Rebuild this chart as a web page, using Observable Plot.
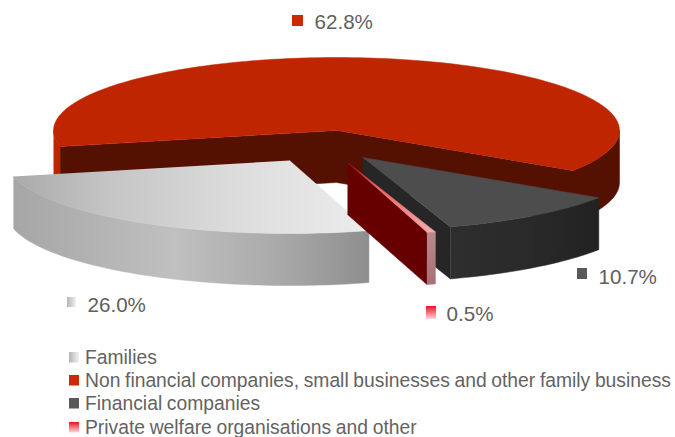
<!DOCTYPE html>
<html>
<head>
<meta charset="utf-8">
<script src="https://cdn.jsdelivr.net/npm/d3@7"></script>
<script src="https://cdn.jsdelivr.net/npm/@observablehq/plot@0.6"></script>
<style>
  html, body { margin: 0; padding: 0; background: #fff; }
  svg { display: block; }
</style>
</head>
<body>
<script>
// Ownership shares, in legend order (clockwise around the pie).
const categories = [
  "Families",
  "Non financial companies, small businesses and other family business",
  "Financial companies",
  "Private welfare organisations and other"
];
const shares = [26.0, 62.8, 10.7, 0.5];

// Pie projection: a tilted disc with an elliptical top and a constant wall depth.
const W = 675, H = 437;
const pie = {cx: 336, cy: 130, rx: 283, ry: 73, depth: 52, firstAngle: 16.3};
// Exploded offset of each slice from the pie centre.
const explode = [[-47, 30], [0, 0], [26, 27], [11, 32]];

// Outside labels and their swatches.
const labelAnchors = [[87, 305], [314, 22], [598, 277], [446, 314]];
const labelSwatches = [[67, 297, 76, 307], [292, 15, 303, 26], [577, 268, 587, 279], [426, 306, 436, 319]];
const legendRows = [357, 380, 403, 427];

// Angle 0 points at the viewer; the angle decreases clockwise on screen.
let cursor = pie.firstAngle;
const slices = shares.map((v, i) => {
  const a0 = cursor;
  cursor -= v * 3.6;
  return {i, a0, a1: cursor, ox: explode[i][0], oy: explode[i][1]};
});
const pt = (s, deg, drop = 0) => {
  const t = deg * Math.PI / 180;
  return {x: pie.cx + s.ox + pie.rx * Math.sin(t), y: pie.cy + s.oy + pie.ry * Math.cos(t) + drop};
};
const hub = (s, drop = 0) => ({x: pie.cx + s.ox, y: pie.cy + s.oy + drop});
const arc = (s, from, to, drop = 0) => {
  const n = Math.max(2, Math.ceil(Math.abs(to - from) / 1.5));
  return d3.range(n + 1).map(k => pt(s, from + (to - from) * k / n, drop));
};
const topFace = s => [hub(s), ...arc(s, s.a0, s.a1)];
const rimWall = (s, from, to) => [...arc(s, from, to), ...arc(s, to, from, pie.depth)];
const cutWall = (s, deg) => [hub(s), pt(s, deg), pt(s, deg, pie.depth), hub(s, pie.depth)];

const face = (points, fill) =>
  Plot.line(points, {x: "x", y: "y", fill, stroke: fill, strokeWidth: 0.5, curve: "linear"});

const [families, nonFin, fin, priv] = slices;

// The dark interior of the large slice: both cut walls and the right-hand rim as one outline.
const nonFinShade = [
  hub(nonFin),
  ...arc(nonFin, nonFin.a1 + 360, 90),
  ...arc(nonFin, 90, nonFin.a1 + 360, pie.depth),
  hub(nonFin, pie.depth),
  pt(nonFin, nonFin.a0, pie.depth),
  pt(nonFin, nonFin.a0)
];

// Gradients used by the lit surfaces and the swatches.
const gradient = (id, stops, x1, y1, x2, y2, user) => {
  const attrs = user
    ? `gradientUnits="userSpaceOnUse" x1="${x1}" y1="${y1}" x2="${x2}" y2="${y2}"`
    : `x1="${x1}" y1="${y1}" x2="${x2}" y2="${y2}"`;
  return `<linearGradient id="${id}" ${attrs}>` +
    stops.map(([o, c]) => `<stop offset="${o}" stop-color="${c}"/>`).join("") + `</linearGradient>`;
};
const defs = () => {
  const g = document.createElementNS("http://www.w3.org/2000/svg", "g");
  g.innerHTML = "<defs>" +
    gradient("greyTop", [[0, "#aaaaaa"], [0.25, "#c4c4c4"], [0.65, "#dedede"], [1, "#ececec"]], 14, 0, 372, 0, true) +
    gradient("greyWall", [[0, "#a6a6a6"], [0.45, "#c0c0c0"], [0.75, "#a9a9a9"], [1, "#8e8e8e"]], 14, 0, 369, 0, true) +
    gradient("darkWall", [[0, "#2e2e2e"], [0.5, "#2a2a2a"], [1, "#222222"]], 450, 0, 597, 0, true) +
    gradient("pinkTop", [[0, "#d01818"], [0.35, "#ee6060"], [1, "#f4a8a8"]], 347, 162, 428, 232, true) +
    gradient("pinkWall", [[0, "#b58a8d"], [1, "#a87074"]], 0, 232, 0, 284, true) +
    gradient("swatchGrey", [[0, "#b4b4b4"], [1, "#f2f2f2"]], 0, 0, 1, 0, false) +
    gradient("swatchPink", [[0, "#f01020"], [1, "#fcd8d8"]], 0, 0, 0, 1, false) +
    "</defs>";
  return g;
};

const tighten = (word) => (index, scales, values, dims, ctx, next) => {
  const g = next(index, scales, values, dims, ctx);
  g.style.wordSpacing = word;
  return g;
};

const rows = shares.map((v, i) => ({
  text: `${v.toFixed(1)}%`, x: labelAnchors[i][0], y: labelAnchors[i][1],
  s: labelSwatches[i]
}));
const legend = categories.map((name, i) => ({name, y: legendRows[i]}));
const swatchFill = ["url(#swatchGrey)", "#c92a00", "#595959", "url(#swatchPink)"];

const chart = Plot.plot({
  width: W, height: H,
  margin: 0,
  x: {domain: [0, W], range: [0, W], axis: null},
  y: {domain: [0, H], range: [0, H], axis: null},
  style: {background: "#fff", fontFamily: "'Liberation Sans', Arial, sans-serif"},
  marks: [
    defs,
    // Non financial companies: lit rim, shaded walls, then the top
    face(rimWall(nonFin, -90, nonFin.a0), "#bf2600"),
    face(nonFinShade, "#541000"),
    face(topFace(nonFin), "#bf2600"),
    // Financial companies
    face(cutWall(fin, fin.a1), "#262626"),
    face(rimWall(fin, fin.a1, fin.a0), "url(#darkWall)"),
    face(topFace(fin), "#4d4d4d"),
    // Families
    face(rimWall(families, families.a1, families.a0), "url(#greyWall)"),
    face(topFace(families), "url(#greyTop)"),
    // Private welfare organisations
    face(cutWall(priv, priv.a1), "#660000"),
    face(rimWall(priv, priv.a1, priv.a0), "url(#pinkWall)"),
    face(topFace(priv), "url(#pinkTop)"),
    // Outside value labels
    ...rows.map((r, i) => Plot.rect([r], {
      x1: d => d.s[0], y1: d => d.s[1], x2: d => d.s[2], y2: d => d.s[3], fill: swatchFill[i]
    })),
    Plot.text(rows, {x: "x", y: "y", text: "text", textAnchor: "start", lineAnchor: "middle", fontSize: 20.6, fill: "#5f5f5f"}),
    // Legend
    ...legend.map((r, i) => Plot.rect([r], {
      x1: 69, x2: 79, y1: d => d.y - 5, y2: d => d.y + 5.5, fill: swatchFill[i]
    })),
    Plot.text(legend, {x: 84.5, y: "y", text: "name", textAnchor: "start", lineAnchor: "middle", fontSize: 19.3, fill: "#636363",
      render: tighten("-0.7px")})
  ]
});
document.body.appendChild(chart);
</script>
</body>
</html>
